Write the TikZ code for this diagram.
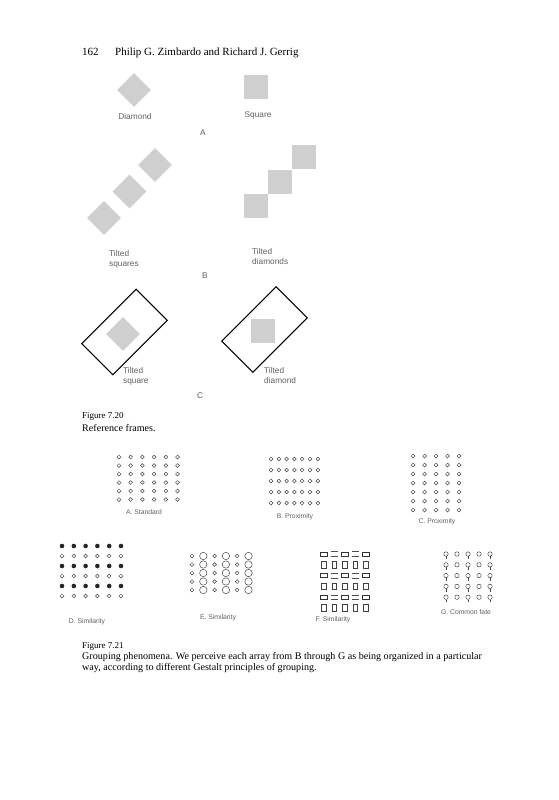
\documentclass[tikz,border=0pt]{standalone}
\usepackage{fontspec}
\setmainfont{Liberation Serif}
\setsansfont{Liberation Sans}
\begin{document}
\begin{tikzpicture}[
  x=1pt,
  y=-1pt,
  runhead/.style={anchor=base west, inner sep=0pt, font=\fontsize{11}{13}\selectfont},
  caption/.style={anchor=base west, inner sep=0pt, font=\fontsize{10.1}{12}\selectfont},
  figno/.style={caption, font=\fontsize{9}{10}\selectfont},
  tile/.style={fill=black!19, minimum size=24pt, inner sep=0pt},
  refframe/.style={
    draw=black,
    line width=1.1pt,
    minimum width=77pt,
    minimum height=44pt,
    inner sep=0pt,
    rotate=45
  },
  tag/.style={font=\fontsize{8.3}{10}\sffamily, text=black!62, align=left, inner sep=0pt},
  smalltag/.style={font=\fontsize{6.8}{8}\sffamily, text=black!62, inner sep=0pt},
  ring/.style={circle, draw=black!72, line width=0.5pt, minimum size=3.8pt, inner sep=0pt},
  bigring/.style={ring, minimum size=7.4pt},
  blob/.style={circle, fill=black!85, minimum size=4.6pt, inner sep=0pt},
  brick/.style={draw=black!80, line width=0.7pt, minimum width=7pt, minimum height=4pt, inner sep=0pt},
  post/.style={draw=black!75, line width=0.7pt, minimum width=4.6pt, minimum height=6.4pt, inner sep=0pt},
  rail/.style={draw=black!70, line width=0.6pt},
  bead/.style={ring, minimum size=4.4pt},
  tail/.style={draw=black!72, line width=0.5pt}
]

\path[fill=white, use as bounding box] (0,0) rectangle (558,800);

\node[runhead] (folio) at (82,55.5) {162};
\node[runhead] (authors) at (115,55.5) {Philip G. Zimbardo and Richard J. Gerrig};

% Figure 7.20, part A
\node[tile, rotate=45] (diamA) at (134,90) {};
\node[tile] (sqA) at (256,87) {};
\node[tag] (diamAtxt) at (135,117) {Diamond};
\node[tag] (sqAtxt) at (258,115) {Square};
\node[tag] (partA) at (203,133) {A};

% Part B
\node[tile, rotate=45] (diamB1) at (104,218) {};
\node[tile, rotate=45] (diamB2) at (129.5,191.5) {};
\node[tile, rotate=45] (diamB3) at (155,165) {};
\node[tile] (sqB1) at (256,206) {};
\node[tile] (sqB2) at (280,182) {};
\node[tile] (sqB3) at (304,157) {};
\node[tag, anchor=west] (diamBtxt) at (109,259) {Tilted\\squares};
\node[tag, anchor=west] (sqBtxt) at (252,257) {Tilted\\diamonds};
\node[tag] (partB) at (205,276) {B};

% Part C, the same frame round each figure
\node[refframe] (frameL) at (124.5,332) {};
\node[tile, rotate=45] (diamC) at (123,334) {};
\node[refframe] (frameR) at (264.5,329.5) {};
\node[tile] (sqC) at (263,330.5) {};
\node[tag, anchor=west] (diamCtxt) at (123,376) {Tilted\\square};
\node[tag, anchor=west] (sqCtxt) at (264,376) {Tilted\\diamond};
\node[tag] (partC) at (200,396) {C};

\node[figno] (fig20) at (82,418) {Figure 7.20};
\node[caption] (fig20txt) at (82,431) {Reference frames.};

% Figure 7.21, arrays A to C
\foreach \r in {0,...,5}
  \foreach \c in {0,...,5}
    \node[ring] (a\r\c) at ({119+11.7*\c},{457+8.5*\r}) {};
\node[smalltag] (stdtxt) at (144,512) {A. Standard};

\foreach \r in {0,...,4}
  \foreach \c in {0,...,6}
    \node[ring] (b\r\c) at ({271+7.8*\c},{459+11*\r}) {};
\node[smalltag] (proxBtxt) at (295,517) {B. Proximity};

\foreach \r in {0,...,6}
  \foreach \c in {0,...,4}
    \node[ring] (c\r\c) at ({413+11.5*\c},{456+9*\r}) {};
\node[smalltag] (proxCtxt) at (437,522) {C. Proximity};

% Arrays D to G
\foreach \r in {0,2,4}
  \foreach \c in {0,...,5} {
    \node[blob] (d\r\c) at ({62+11.8*\c},{546+10*\r}) {};
    \node[ring] (e\r\c) at ({62+11.8*\c},{556+10*\r}) {};
  }
\node[smalltag] (simDtxt) at (87,622) {D. Similarity};

\foreach \r in {0,...,4} {
  \foreach \c in {0,2,4}
    \node[ring] (s\r\c) at ({192+11.3*\c},{556+8.5*\r}) {};
  \foreach \c in {1,3,5}
    \node[bigring] (s\r\c) at ({192+11.3*\c},{556+8.5*\r}) {};
}
\node[smalltag] (simEtxt) at (218,618) {E. Similarity};

\foreach \r in {0,2,4} {
  \foreach \c in {0,2,4}
    \node[brick] (f\r\c) at ({324+10.5*\c},{554+10.8*\r}) {};
  \foreach \c in {1,3} {
    \node[brick, draw=none] (f\r\c) at ({324+10.5*\c},{554+10.8*\r}) {};
    \draw[rail] (f\r\c.north west) -- (f\r\c.north east)
                (f\r\c.south west) -- (f\r\c.south east);
  }
}
\foreach \r in {1,3,5}
  \foreach \c in {0,...,4}
    \node[post] (f\r\c) at ({324+10.5*\c},{554+10.8*\r}) {};
\node[smalltag] (simFtxt) at (333,620) {F. Similarity};

\foreach \r in {0,...,4} {
  \foreach \c in {0,2,4} {
    \node[bead] (g\r\c) at ({446+11*\c},{554+10.8*\r}) {};
    \draw[tail] (g\r\c.south) -- ++(0,2.8);
  }
  \foreach \c in {1,3}
    \node[bead] (g\r\c) at ({446+11*\c},{554+10.8*\r}) {};
}
\node[smalltag] (fateGtxt) at (466,612) {G. Common fate};

\node[figno] (fig21) at (82,648) {Figure 7.21};
\node[caption] (fig21txt) at (82,659.5)
  {Grouping phenomena. We perceive each array from B through G as being organized in a particular};
\node[caption] (fig21more) at (82,670.5)
  {way, according to different Gestalt principles of grouping.};

\end{tikzpicture}
\end{document}
